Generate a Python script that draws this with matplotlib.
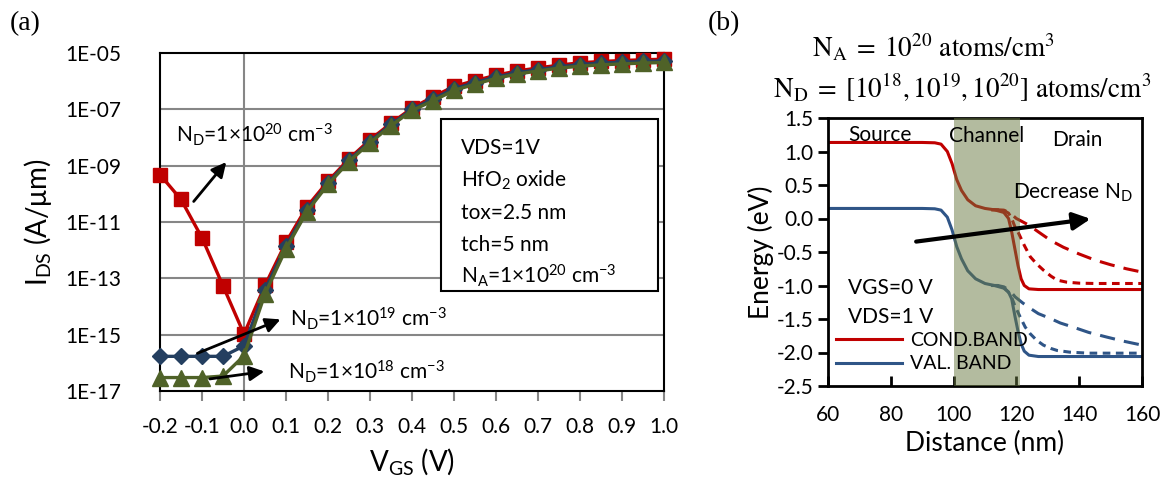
import matplotlib.pyplot as plt
from matplotlib.ticker import FixedLocator, FuncFormatter, MultipleLocator
from matplotlib.patches import Rectangle
import numpy as np

plt.rcParams['font.family'] = ['Lato', 'DejaVu Sans']
plt.rcParams['mathtext.fontset'] = 'custom'
plt.rcParams['mathtext.rm'] = 'Lato'
plt.rcParams['mathtext.it'] = 'Lato:italic'
plt.rcParams['mathtext.default'] = 'regular'

# (a) transfer curves, IDS in A/um
vgs = [-0.20, -0.15, -0.10, -0.05, 0.00, 0.05, 0.10, 0.15, 0.20, 0.25, 0.30, 0.35,
       0.40, 0.45, 0.50, 0.55, 0.60, 0.65, 0.70, 0.75, 0.80, 0.85, 0.90, 0.95, 1.00]
ids_nd20 = [4.8e-10, 6.3e-11, 2.75e-12, 5.4e-14, 1.05e-15, 5.6e-14, 1.9e-12, 3.5e-11,
            2.8e-10, 1.74e-9, 8.3e-9, 3.2e-8, 1.1e-7, 2.8e-7, 6.5e-7, 1.05e-6, 1.62e-6,
            2.3e-6, 2.95e-6, 3.7e-6, 4.5e-6, 5.0e-6, 5.4e-6, 5.75e-6, 6.0e-6]
ids_nd19 = [1.7e-16, 1.7e-16, 1.7e-16, 1.7e-16, 4.0e-16, 4.0e-14, 1.4e-12, 2.75e-11,
            2.4e-10, 1.55e-9, 7.2e-9, 2.9e-8, 1.0e-7, 2.35e-7, 5.4e-7, 8.9e-7, 1.41e-6,
            2.0e-6, 2.57e-6, 3.24e-6, 3.9e-6, 4.4e-6, 4.7e-6, 5.0e-6, 5.25e-6]
ids_nd18 = [3.0e-17, 3.0e-17, 3.0e-17, 3.4e-17, 1.78e-16, 2.8e-14, 1.12e-12, 2.35e-11,
            2.15e-10, 1.4e-9, 6.5e-9, 2.6e-8, 9.1e-8, 2.0e-7, 4.7e-7, 7.8e-7, 1.26e-6,
            1.78e-6, 2.3e-6, 2.9e-6, 3.4e-6, 3.8e-6, 4.1e-6, 4.4e-6, 4.6e-6]
ytick_vals = [1e-17, 1e-15, 1e-13, 1e-11, 1e-9, 1e-7, 1e-5]
xtick_vals = [-0.2, -0.1, 0.0, 0.1, 0.2, 0.3, 0.4, 0.5, 0.6, 0.7, 0.8, 0.9, 1.0]

# (b) band diagrams, distance in nm, energy in eV
cb_x = [60, 90, 94, 96, 98, 99.5, 101, 102.5, 104.5, 107, 110, 113, 116, 117.5,
        118.5, 119.5, 120.5, 121.5, 122.5, 124, 127, 160]
cb_e = [1.135, 1.135, 1.13, 1.11, 1.0, 0.82, 0.58, 0.42, 0.28, 0.19, 0.15, 0.13, 0.09,
        0.0, -0.2, -0.45, -0.7, -0.9, -1.0, -1.05, -1.06, -1.06]
cb19_x = [112, 114, 116, 117.5, 118.5, 119.5, 120.7, 122.5, 124.4, 126.5, 128.6, 131,
          133, 136, 140, 145, 160]
cb19_e = [0.13, 0.13, 0.12, 0.08, 0.0, -0.12, -0.22, -0.4, -0.57, -0.68, -0.77, -0.86,
          -0.92, -0.95, -0.965, -0.97, -0.97]
cb18_x = [112, 114, 116, 118, 120, 122, 124, 127, 131, 135, 140, 145, 150, 155, 160]
cb18_e = [0.13, 0.13, 0.125, 0.08, 0.0, -0.05, -0.1, -0.2, -0.33, -0.43, -0.53, -0.62,
          -0.69, -0.75, -0.8]
vb_x = [60, 90, 94, 96, 98, 99.5, 101, 102.5, 104.5, 107, 110, 113, 116, 117.5,
        118.5, 119.5, 120.5, 121.5, 122.5, 124, 127, 160]
vb_e = [0.15, 0.15, 0.145, 0.125, 0.02, -0.17, -0.42, -0.6, -0.78, -0.9, -0.97, -1.0,
        -1.04, -1.1, -1.2, -1.45, -1.68, -1.87, -1.98, -2.04, -2.06, -2.06]
vb19_x = [112, 114, 116, 117.5, 118.5, 119.5, 121.2, 122.8, 124.4, 126.5, 128.6, 131,
          133, 137, 143, 160]
vb19_e = [-1.0, -1.0, -1.03, -1.1, -1.18, -1.3, -1.47, -1.62, -1.72, -1.82, -1.89,
          -1.94, -1.97, -1.995, -2.01, -2.01]
vb18_x = [112, 114, 116, 118, 119.6, 122, 124.4, 127, 130.7, 134, 138, 143, 148.8, 154, 160]
vb18_e = [-1.0, -1.0, -1.02, -1.08, -1.17, -1.26, -1.34, -1.42, -1.49, -1.56, -1.62,
          -1.70, -1.77, -1.83, -1.89]
channel = [100, 121]

red = '#C00000'
blue_a = '#243F60'
green = '#4F6228'
blue_b = '#2F5587'

fig = plt.figure(figsize=(11.68, 4.79), dpi=100)

# ---------- (a) ----------
ax1 = fig.add_axes([160 / 1168, 1 - 391 / 479, 504 / 1168, 338 / 479])
ax1.set_yscale('log')
ax1.set_xlim(-0.2, 1.0)
ax1.set_ylim(1e-17, 1e-5)
for y in ytick_vals[1:-1]:
    ax1.axhline(y, color='#868686', lw=1.5, zorder=0)
ax1.axvline(0.0, color='#868686', lw=1.5, zorder=0)

ax1.plot(vgs, ids_nd20, color=red, lw=2.4, marker='s', ms=10, clip_on=False, zorder=3)
ax1.plot(vgs, ids_nd19, color=blue_a, lw=2.4, marker='D', ms=8.5, clip_on=False, zorder=4)
ax1.plot(vgs, ids_nd18, color=green, lw=2.4, marker='^', ms=11, clip_on=False, zorder=5)

ax1.yaxis.set_major_locator(FixedLocator(ytick_vals))
ax1.yaxis.set_minor_locator(FixedLocator([]))
ax1.yaxis.set_major_formatter(FuncFormatter(lambda v, p: '1E-%02d' % round(-np.log10(v))))
ax1.set_xticks(xtick_vals)
ax1.set_xticklabels(['%.1f' % v for v in xtick_vals])
ax1.tick_params(axis='y', length=0, labelsize=15, pad=28)
ax1.tick_params(axis='x', direction='out', length=7, width=1.5, color='#868686',
                labelsize=15, pad=12)
for s in ax1.spines.values():
    s.set_linewidth(1.5)
    s.set_color('black')
ax1.set_ylabel('I$_{DS}$ (A/μm)', fontsize=20, labelpad=8)
ax1.set_xlabel('V$_{GS}$ (V)', fontsize=20, labelpad=6)

ax1.text(-0.162, 10 ** -8.15, 'N$_D$=1×10$^{20}$ cm$^{-3}$', fontsize=15, va='baseline')
ax1.text(0.110, 10 ** -14.70, 'N$_D$=1×10$^{19}$ cm$^{-3}$', fontsize=15, va='baseline')
ax1.text(0.105, 10 ** -16.58, 'N$_D$=1×10$^{18}$ cm$^{-3}$', fontsize=15, va='baseline')
arr = dict(arrowstyle='-|>', lw=2, color='black', mutation_scale=22)
ax1.annotate('', xy=(-0.038, 1.6e-9), xytext=(-0.124, 4.5e-11), arrowprops=arr, zorder=6)
ax1.annotate('', xy=(0.093, 3.8e-15), xytext=(-0.117, 2.0e-16), arrowprops=arr, zorder=6)
ax1.annotate('', xy=(0.055, 5.1e-17), xytext=(-0.088, 2.6e-17), arrowprops=arr, zorder=6)

ax1.add_patch(Rectangle((0.5575, 0.296), 0.4305, 0.509, transform=ax1.transAxes,
                        facecolor='white', edgecolor='black', lw=1.5, zorder=7))
box_lines = ['VDS=1V', 'HfO$_2$ oxide', 'tox=2.5 nm', 'tch=5 nm',
             'N$_A$=1×10$^{20}$ cm$^{-3}$']
for i, t in enumerate(box_lines):
    ax1.text(0.597, 0.701 - i * 0.0955, t, transform=ax1.transAxes, fontsize=15,
             va='baseline', zorder=8)

# ---------- (b) ----------
ax2 = fig.add_axes([828 / 1168, 1 - 386 / 479, 314 / 1168, 268 / 479])
ax2.set_xlim(60, 160)
ax2.set_ylim(-2.5, 1.5)
cb_line, = ax2.plot(cb_x, cb_e, color=red, lw=2.2, zorder=2)
ax2.plot(cb19_x, cb19_e, color=red, lw=2.2, ls=(0, (2.5, 1.8)), zorder=2)
ax2.plot(cb18_x, cb18_e, color=red, lw=2.2, ls=(0, (5, 3)), zorder=2)
vb_line, = ax2.plot(vb_x, vb_e, color=blue_b, lw=2.2, zorder=2)
ax2.plot(vb19_x, vb19_e, color=blue_b, lw=2.2, ls=(0, (2.5, 1.8)), zorder=2)
ax2.plot(vb18_x, vb18_e, color=blue_b, lw=2.2, ls=(0, (5, 3)), zorder=2)
ax2.axvspan(channel[0], channel[1], color='#697941', alpha=0.5, lw=0, zorder=3)

ax2.xaxis.set_major_locator(MultipleLocator(20))
ax2.yaxis.set_major_locator(MultipleLocator(0.5))
ax2.yaxis.set_major_formatter(FuncFormatter(lambda v, p: '%.1f' % v))
ax2.tick_params(axis='x', direction='in', length=7, width=2, labelsize=15, pad=14)
ax2.tick_params(axis='y', direction='out', length=7, width=2, labelsize=15)
for s in ax2.spines.values():
    s.set_linewidth(2)
ax2.set_xlabel('Distance (nm)', fontsize=19, labelpad=4)
ax2.set_ylabel('Energy (eV)', fontsize=19, labelpad=2)

ax2.text(66.4, 1.15, 'Source', fontsize=15, va='baseline', zorder=4)
ax2.text(98.4, 1.135, 'Channel', fontsize=15, va='baseline', zorder=4)
ax2.text(131.3, 1.085, 'Drain', fontsize=15, va='baseline', zorder=4)
ax2.text(119.0, 0.29, 'Decrease N$_D$', fontsize=15, va='baseline', zorder=4)
ax2.text(66.5, -1.12, 'VGS=0 V', fontsize=15, va='baseline', zorder=4)
ax2.text(66.5, -1.56, 'VDS=1 V', fontsize=15, va='baseline', zorder=4)
ax2.annotate('', xy=(144.5, 0.0), xytext=(87.2, -0.35), zorder=5,
             arrowprops=dict(arrowstyle='-|>', lw=3, color='black', mutation_scale=26))
leg = ax2.legend([cb_line, vb_line], ['COND.BAND', 'VAL. BAND'], loc='upper left',
                 bbox_to_anchor=(0.0, 0.232), frameon=False, fontsize=14,
                 handlelength=3.4, handletextpad=0.4, labelspacing=0.35, borderaxespad=0)
leg.set_zorder(6)

fig.text(10 / 1168, 1 - 30 / 479, '(a)', fontsize=20, family='Liberation Serif')
fig.text(708 / 1168, 1 - 30 / 479, '(b)', fontsize=20, family='Liberation Serif')
fig.text(934 / 1168, 1 - 57 / 479, r'$N_A\;=\;10^{20}$ atoms/cm$^3$', fontsize=19.5,
         ha='center', family='STIXGeneral', math_fontfamily='stix')
fig.text(962 / 1168, 1 - 98 / 479, r'$N_D\;=\;[10^{18}, 10^{19}, 10^{20}]$ atoms/cm$^3$',
         fontsize=19.5, ha='center', family='STIXGeneral', math_fontfamily='stix')

fig.savefig('out.png', dpi=100)
